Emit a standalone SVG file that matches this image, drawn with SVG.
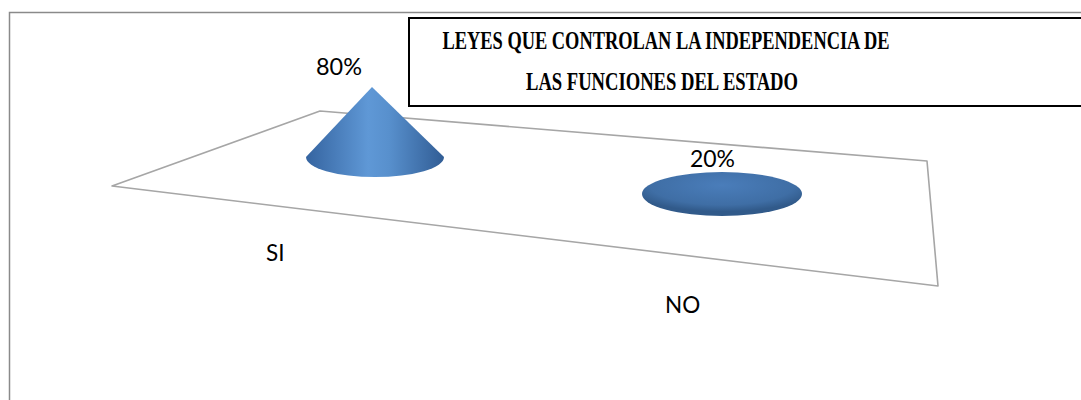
<svg xmlns="http://www.w3.org/2000/svg" width="1081" height="400" viewBox="0 0 1081 400">
<defs>
<style>
.lbl{font-family:Lato,"Open Sans","Liberation Sans",sans-serif;font-size:22.5px;fill:#000}
.ttl{font-family:"Liberation Serif","Times New Roman",serif;font-weight:bold;font-size:26px;fill:#000}
</style>
<linearGradient id="coneG" x1="0" y1="0" x2="1" y2="0">
<stop offset="0" stop-color="#3564a0"/>
<stop offset="0.45" stop-color="#5f98d6"/>
<stop offset="0.6" stop-color="#5890cd"/>
<stop offset="1" stop-color="#315d95"/>
</linearGradient>
<radialGradient id="diskG" cx="0.5" cy="0.3" r="0.6">
<stop offset="0" stop-color="#4a7dba"/>
<stop offset="0.75" stop-color="#3f6ea5"/>
<stop offset="1" stop-color="#315a8a"/>
</radialGradient>
</defs>
<rect width="1081" height="400" fill="#fff"/>
<rect x="9.5" y="12.5" width="1100" height="400" fill="none" stroke="#8a8a8a" stroke-width="1.5"/>
<g id="plane">
<polygon points="112,186 320,111 927,161 938,286" fill="none" stroke="#a6a6a6" stroke-width="1.6" stroke-linejoin="round"/>
</g>
<g id="title">
<rect x="409" y="18" width="700" height="88" fill="#fff" stroke="#000" stroke-width="2"/>
<text class="ttl" x="666" y="49" text-anchor="middle" textLength="447" lengthAdjust="spacingAndGlyphs">LEYES QUE CONTROLAN LA INDEPENDENCIA DE</text>
<text class="ttl" x="662" y="90" text-anchor="middle" textLength="272" lengthAdjust="spacingAndGlyphs">LAS FUNCIONES DEL ESTADO</text>
</g>
<g id="node-si">
<path d="M372,87 L306,157 A69,20 0 0 0 444,157 Z" fill="url(#coneG)"/>
<text class="lbl" x="316" y="75" textLength="46" lengthAdjust="spacingAndGlyphs">80%</text>
<text class="lbl" x="266" y="261">SI</text>
</g>
<g id="node-no">
<ellipse cx="722" cy="194" rx="80" ry="22" fill="url(#diskG)"/>
<text class="lbl" x="690" y="167" textLength="45" lengthAdjust="spacingAndGlyphs">20%</text>
<text class="lbl" x="665" y="313">NO</text>
</g>
<g id="connectors"/>
</svg>
